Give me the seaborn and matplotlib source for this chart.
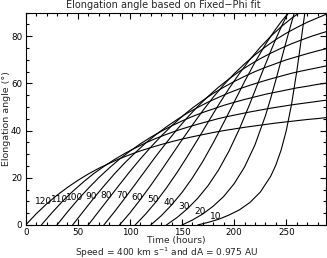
import pandas as pd
import seaborn as sns
import matplotlib.pyplot as plt
from matplotlib.ticker import MultipleLocator

# Fixed-Phi fit curves, one per propagation angle phi (deg)
phi_labels = [120, 110, 100, 90, 80, 70, 60, 50, 40, 30, 20, 10]

t_120 = [0, 10, 20, 30, 40, 50, 60, 70, 80, 90, 100, 110, 120, 130, 140,
         150, 160, 170, 180, 190, 200, 210, 220, 230, 240, 250, 260, 270, 280, 290]
e_120 = [0, 4.7, 8.9, 12.6, 15.9, 18.9, 21.6, 24.0, 26.1, 28.1, 29.8, 31.4, 32.8, 34.1, 35.3,
         36.4, 37.4, 38.3, 39.2, 40.0, 40.7, 41.4, 42.0, 42.6, 43.2, 43.7, 44.2, 44.7, 45.1, 45.6]

t_110 = [15, 25, 35, 45, 55, 65, 75, 85, 95, 105, 115, 125, 135, 145, 155,
         165, 175, 185, 195, 205, 215, 225, 235, 245, 255, 265, 275, 285, 295]
e_110 = [0, 5.1, 9.9, 14.2, 18.1, 21.7, 24.8, 27.7, 30.3, 32.6, 34.8, 36.7, 38.4, 40.0, 41.4,
         42.7, 43.9, 45.1, 46.1, 47.0, 47.9, 48.7, 49.5, 50.2, 50.9, 51.5, 52.1, 52.7, 53.2]

t_100 = [30, 40, 50, 60, 70, 80, 90, 100, 110, 120, 130, 140, 150, 160,
         170, 180, 190, 200, 210, 220, 230, 240, 250, 260, 270, 280, 290]
e_100 = [0, 5.5, 10.7, 15.5, 20.0, 24.1, 27.9, 31.3, 34.4, 37.2, 39.7, 42.0, 44.1, 46.0,
         47.7, 49.2, 50.7, 52.0, 53.2, 54.3, 55.4, 56.3, 57.2, 58.1, 58.8, 59.6, 60.2]

t_90 = [45, 55, 65, 75, 85, 95, 105, 115, 125, 135, 145, 155, 165,
        175, 185, 195, 205, 215, 225, 235, 245, 255, 265, 275, 285, 295]
e_90 = [0, 5.6, 11.2, 16.5, 21.6, 26.3, 30.6, 34.7, 38.3, 41.6, 44.6, 47.4, 49.8,
        52.1, 54.1, 56.0, 57.7, 59.2, 60.6, 61.9, 63.1, 64.3, 65.3, 66.2, 67.1, 68.0]

t_80 = [60, 70, 80, 90, 100, 110, 120, 130, 140, 150, 160, 170,
        180, 190, 200, 210, 220, 230, 240, 250, 260, 270, 280, 290]
e_80 = [0, 5.7, 11.4, 17.1, 22.7, 28.0, 33.0, 37.7, 42.0, 46.0, 49.6, 52.8,
        55.8, 58.4, 60.8, 63.0, 65.0, 66.8, 68.4, 70.0, 71.3, 72.6, 73.8, 74.9]

t_70 = [75, 85, 95, 105, 115, 125, 135, 145, 155, 165, 175, 185,
        195, 205, 215, 225, 235, 245, 255, 265, 275, 285, 295]
e_70 = [0, 5.5, 11.3, 17.2, 23.2, 29.2, 34.9, 40.4, 45.5, 50.2, 54.5, 58.4,
        61.9, 65.1, 67.9, 70.5, 72.8, 74.9, 76.8, 78.5, 80.1, 81.5, 82.8]

t_60 = [90, 100, 110, 120, 130, 140, 150, 160, 170, 180, 190,
        200, 210, 220, 230, 240, 250, 260, 270, 280, 290]
e_60 = [0, 5.1, 10.8, 16.8, 23.1, 29.6, 36.1, 42.4, 48.5, 54.2, 59.4,
        64.1, 68.3, 72.1, 75.5, 78.6, 81.3, 83.7, 85.9, 87.8, 89.6]

t_50 = [105, 115, 125, 135, 145, 155, 165, 175, 185,
        195, 205, 215, 225, 235, 245, 255, 265]
e_50 = [0, 4.6, 9.8, 15.7, 22.1, 29.0, 36.2, 43.6, 50.9,
        57.8, 64.2, 70.1, 75.3, 79.9, 84.0, 87.6, 90.7]

t_40 = [120, 130, 140, 150, 160, 170, 180, 190, 200,
        210, 220, 230, 235, 240, 245, 250, 260]
e_40 = [0, 3.9, 8.5, 13.8, 20.0, 27.0, 34.9, 43.4, 52.1,
        60.8, 69.0, 76.5, 79.9, 83.1, 86.1, 88.8, 93.8]

t_30 = [135, 145, 155, 165, 175, 185, 195, 205,
        215, 225, 235, 240, 245, 250, 255]
e_30 = [0, 3.1, 6.8, 11.3, 16.7, 23.3, 31.3, 40.7,
        51.3, 62.6, 73.6, 78.9, 83.8, 88.3, 92.5]

t_20 = [150, 160, 170, 180, 190, 200, 210, 220,
        230, 235, 240, 245, 250, 255, 260]
e_20 = [0, 2.1, 4.7, 8.0, 12.1, 17.5, 24.6, 34.0,
        46.3, 53.6, 61.5, 69.7, 77.9, 85.8, 93.2]

t_10 = [165, 175, 185, 195, 205, 215, 225, 235, 240,
        245, 250, 255, 260, 262.5, 265, 266.5, 269]
e_10 = [0, 1.1, 2.4, 4.2, 6.4, 9.5, 13.9, 20.6, 25.4,
        31.7, 40.0, 51.0, 64.9, 72.7, 80.8, 85.7, 93.6]

curves = [
    (120, t_120, e_120), (110, t_110, e_110), (100, t_100, e_100),
    (90, t_90, e_90), (80, t_80, e_80), (70, t_70, e_70),
    (60, t_60, e_60), (50, t_50, e_50), (40, t_40, e_40),
    (30, t_30, e_30), (20, t_20, e_20), (10, t_10, e_10),
]

# long table for seaborn
rows = []
for phi, t, e in curves:
    for ti, ei in zip(t, e):
        rows.append((phi, ti, ei))
df = pd.DataFrame(rows, columns=["phi", "time", "elong"])

sns.set_style("ticks")
plt.rcParams["font.family"] = ["DejaVu Sans"]

fig = plt.figure(figsize=(3.27, 2.58), dpi=100)
ax = fig.add_axes([0.0786, 0.128, 0.918, 0.823])

sns.lineplot(data=df, x="time", y="elong", units="phi", estimator=None,
             sort=False, color="black", lw=0.8, ax=ax, legend=False)

# phi labels sit just above each curve, ~20 h after launch
for phi, t, e in curves:
    ax.annotate(str(phi), xy=(t[2], e[2]), xytext=(-2, -1.5),
                textcoords="offset points", ha="center", va="bottom",
                fontsize=6.5, color="black")

ax.set_xlim(0, 288)
ax.set_ylim(0, 90)
ax.xaxis.set_major_locator(MultipleLocator(50))
ax.xaxis.set_minor_locator(MultipleLocator(10))
ax.yaxis.set_major_locator(MultipleLocator(20))
ax.yaxis.set_minor_locator(MultipleLocator(5))
ax.tick_params(which="both", direction="in", top=True, right=True,
               labelsize=6.3, width=0.8, colors="black")
ax.tick_params(which="major", length=4, pad=2.5)
ax.tick_params(which="minor", length=2)
for s in ax.spines.values():
    s.set_linewidth(0.8)
    s.set_color("black")

ax.set_xlabel("")
ax.set_ylabel("Elongation angle (\u00b0)", fontsize=6.8)
ax.yaxis.label.set_va("center")
ax.yaxis.set_label_coords(-0.063, 0.5)

fig.text(0.54, 1 - 241 / 258, "Time (hours)", ha="center", va="center", fontsize=6.6)
fig.text(0.51, 1 - 252.3 / 258, "Speed = 400 km s$^{\\mathregular{-1}}$ and dA = 0.975 AU",
         ha="center", va="center", fontsize=6.5)
fig.text(0.5, 1 - 5 / 258, "Elongation angle based on Fixed\u2212Phi fit",
         ha="center", va="center", fontsize=7)

fig.savefig("out.png", dpi=100)
